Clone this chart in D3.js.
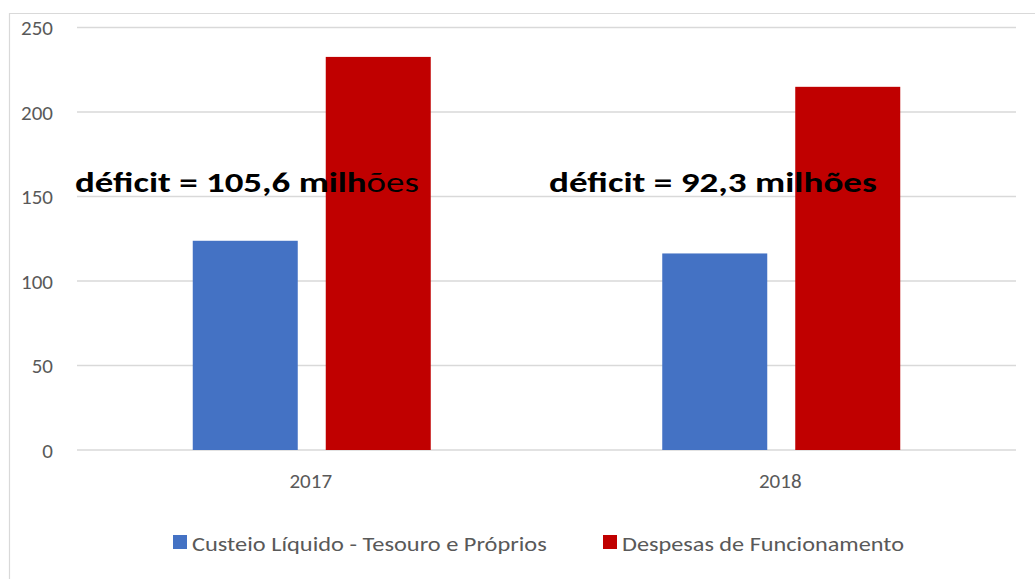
<!DOCTYPE html>
<html>
<head>
<meta charset="utf-8">
<script src="https://cdn.jsdelivr.net/npm/d3@7"></script>
<style>
  body { margin: 0; background: #fff; }
  svg { display: block; font-family: Carlito, Calibri, Lato, sans-serif; }
</style>
</head>
<body>
<div id="chart"></div>
<script>
const years = ['2017', '2018'];
const seriesNames = ['Custeio Líquido - Tesouro e Próprios', 'Despesas de Funcionamento'];
const custeio = [123.8, 116.3];
const despesas = [232.6, 214.9];
const yTicks = [0, 50, 100, 150, 200, 250];
const deficitLabels = ['déficit = 105,6 milhões', 'déficit = 92,3 milhões'];

const colors = ['#4472c4', '#c00000'];
const width = 1035, height = 579;

const svg = d3.select('#chart')
    .append('svg')
    .attr('width', width)
    .attr('height', height);

// stretch a start-anchored text horizontally so it ends at x1
function fitText(sel, x0, x1) {
  const w = sel.node().getBBox().width;
  const k = (x1 - x0) / w;
  sel.attr('transform', `translate(${x0},0) scale(${k},1) translate(${-x0},0)`);
}

// chart area border (top and left only visible)
svg.append('line').attr('x1', 9).attr('x2', width).attr('y1', 13.5).attr('y2', 13.5)
    .attr('stroke', '#d9d9d9').attr('stroke-width', 1.2);
svg.append('line').attr('x1', 9.5).attr('x2', 9.5).attr('y1', 13).attr('y2', height)
    .attr('stroke', '#d9d9d9').attr('stroke-width', 1.2);

const x = d3.scaleBand().domain(years).range([77, 1016]);
const y = d3.scaleLinear().domain([0, 250]).range([450, 27.5]);

// gridlines
svg.append('g')
    .selectAll('line')
    .data(yTicks)
    .join('line')
    .attr('x1', 77).attr('x2', 1016)
    .attr('y1', d => y(d)).attr('y2', d => y(d))
    .attr('stroke', '#d9d9d9')
    .attr('stroke-width', 1.5);

// y tick labels
svg.append('g')
    .selectAll('text')
    .data(yTicks)
    .join('text')
    .attr('x', 53)
    .attr('y', d => y(d))
    .attr('dy', '0.36em')
    .attr('text-anchor', 'end')
    .attr('fill', '#595959')
    .style('font-size', '21px')
    .text(d => d);

// x labels
svg.append('g')
    .selectAll('text')
    .data(years)
    .join('text')
    .attr('x', d => x(d) + x.bandwidth() / 2 - 1)
    .attr('y', 488)
    .attr('text-anchor', 'middle')
    .attr('fill', '#595959')
    .style('font-size', '21px')
    .text(d => d);

const barW = 105, gap = 28;
const data = years.map((yr, i) => ({ yr, vals: [custeio[i], despesas[i]] }));

const barG = svg.append('g');
const annG = svg.append('g');

data.forEach((d, i) => {
  const cx = x(d.yr) + x.bandwidth() / 2;
  d.vals.forEach((v, s) => {
    const bx = s === 0 ? cx - gap / 2 - barW : cx + gap / 2;
    barG.append('rect')
        .attr('x', bx)
        .attr('y', y(v))
        .attr('width', barW)
        .attr('height', y(0) - y(v))
        .attr('fill', colors[s]);
  });
});

// 2017 annotation: "déficit = 105,6 milh" bold, "ões" regular
const t1 = annG.append('text')
    .attr('x', 75).attr('y', 192)
    .attr('fill', '#000')
    .style('font-size', '29px');
t1.append('tspan').style('font-weight', 'bold').text(deficitLabels[0].slice(0, -3));
t1.append('tspan').style('font-weight', 'normal').text(deficitLabels[0].slice(-3));
fitText(t1, 75, 419);

const t2 = annG.append('text')
    .attr('x', 549).attr('y', 192)
    .attr('fill', '#000')
    .style('font-size', '29px')
    .style('font-weight', 'bold')
    .text(deficitLabels[1]);
fitText(t2, 549, 877);

// legend
const legendX = [173, 603];
const legendEnd = [547, 904];
const legend = svg.append('g')
    .selectAll('g')
    .data(seriesNames)
    .join('g');
legend.append('rect')
    .attr('x', (d, i) => legendX[i]).attr('y', 535)
    .attr('width', 14).attr('height', 14)
    .attr('fill', (d, i) => colors[i]);
legend.append('text')
    .attr('x', (d, i) => legendX[i] + 19).attr('y', 551)
    .attr('fill', '#595959')
    .style('font-size', '21px')
    .text(d => d)
    .each(function(d, i) { fitText(d3.select(this), legendX[i] + 19, legendEnd[i]); });
</script>
</body>
</html>
